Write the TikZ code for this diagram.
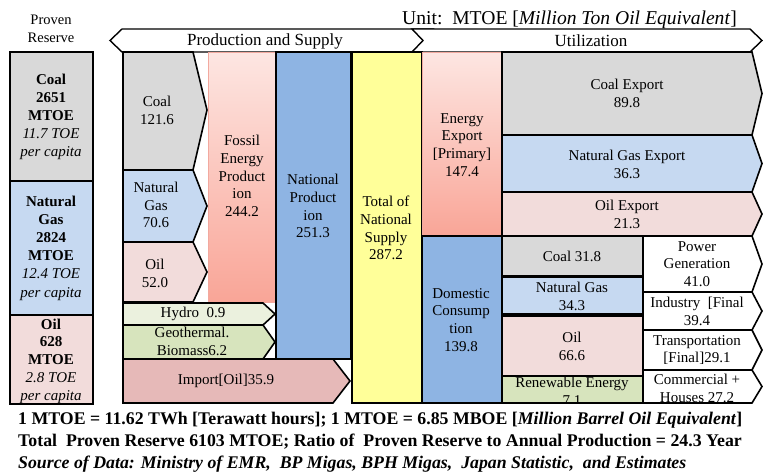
\documentclass[tikz,border=0pt]{standalone}
\usepackage{fontspec}
\setmainfont{Liberation Serif}
\begin{document}
\definecolor{coalc}{HTML}{D9D9D9}
\definecolor{gasc}{HTML}{C6D9F1}
\definecolor{oilc}{HTML}{F2DCDB}
\definecolor{hydroc}{HTML}{EBF1DE}
\definecolor{geoc}{HTML}{D7E4BD}
\definecolor{importc}{HTML}{E6B9B8}
\definecolor{natc}{HTML}{8EB4E3}
\definecolor{yelc}{HTML}{FFFF99}
\definecolor{pinktop}{HTML}{FDE6E2}
\definecolor{pinkbot}{HTML}{F9A597}
\definecolor{pinkedge}{HTML}{F2A99F}
\begin{tikzpicture}[x=1pt,y=-1pt,
  bx/.style={draw=black,line width=1.6pt,line join=miter},
  hdr/.style={draw=black,line width=1.4pt,fill=white},
  grad/.style={draw=pinkedge,line width=0.8pt,top color=pinktop,bottom color=pinkbot},
  lbl/.style={align=center,font=\fontsize{15}{17.8}\selectfont,inner sep=0pt},
  note/.style={anchor=base west,inner sep=0pt,font=\fontsize{17.8}{20}\selectfont\bfseries}]
\useasboundingbox (0,0) rectangle (763,472);
\fill[white] (0,0) rectangle (763,472);

% headers
\node[lbl,font=\fontsize{14.5}{17.5}\selectfont] (provhead) at (51,29) {Proven\\Reserve};
\node[anchor=base west,inner sep=0pt,font=\fontsize{19.6}{21}\selectfont] (unit) at (402,24) {Unit:\ \ MTOE [\textit{Million Ton Oil Equivalent}]};
\draw[hdr] (110,40.5) -- (122,29) -- (433,29) -- (423,40.5) -- (433,52) -- (122,52) -- cycle;
\draw[hdr] (412,29) -- (750,29) -- (762,40.5) -- (750,52) -- (412,52) -- (423,40.5) -- cycle;
\node[lbl,font=\fontsize{17}{18}\selectfont] (prodhead) at (265,41) {Production and Supply};
\node[lbl,font=\fontsize{17}{18}\selectfont] (utilhead) at (591,41) {Utilization};

% proven reserve column
\draw[bx,fill=coalc] (10,52) rectangle (93,181);
\draw[bx,fill=gasc] (10,181) rectangle (93,315);
\draw[bx,fill=oilc] (10,315) rectangle (93,404);
\node[lbl,font=\fontsize{15}{18}\selectfont] (rcoal) at (51,117) {\textbf{Coal}\\\textbf{2651}\\\textbf{MTOE}\\\textit{11.7 TOE}\\\textit{per capita}};
\node[lbl,font=\fontsize{15}{18.2}\selectfont] (rgas) at (51,248) {\textbf{Natural}\\\textbf{Gas}\\\textbf{2824}\\\textbf{MTOE}\\\textit{12.4 TOE}\\\textit{per capita}};
\node[lbl,font=\fontsize{15}{17.8}\selectfont] (roil) at (51,361) {\textbf{Oil}\\\textbf{628}\\\textbf{MTOE}\\\textit{2.8 TOE}\\\textit{per capita}};

% big columns
\draw[grad] (208,52) rectangle (275,302);
\draw[bx,fill=natc] (276,52) rectangle (351,359);
\draw[bx,fill=yelc] (352,52) rectangle (422,403);
\draw[grad] (422,52) rectangle (502,236);
\draw[bx,fill=natc] (422,236) rectangle (502,403);

% production shapes
\draw[bx,fill=coalc] (123,52) -- (193,52) -- (207,110) -- (193,170) -- (123,170) -- cycle;
\draw[bx,fill=gasc] (123,170) -- (193,170) -- (207,206) -- (193,242) -- (123,242) -- cycle;
\draw[bx,fill=oilc] (123,242) -- (193,242) -- (207,272) -- (193,302) -- (123,302) -- cycle;
\draw[bx,fill=hydroc] (123,303) -- (263,303) -- (275,314) -- (263,325) -- (123,325) -- cycle;
\draw[bx,fill=geoc] (123,325) -- (263,325) -- (275,342) -- (263,359) -- (123,359) -- cycle;
\draw[bx,fill=importc] (123,359) -- (333,359) -- (350,381) -- (333,403) -- (123,403) -- cycle;

\node[lbl] (pcoal) at (157,110) {Coal\\121.6};
\node[lbl] (pgas) at (156,205) {Natural\\Gas\\70.6};
\node[lbl] (poil) at (155,273) {Oil\\52.0};
\node[lbl] (fossil) at (242,176) {Fossil\\Energy\\Product\\ion\\244.2};
\node[lbl] (hydro) at (193,314) {Hydro\ \ 0.9};
\node[lbl] (geo) at (192,341.5) {Geothermal.\\Biomass6.2};
\node[lbl] (import) at (226,381) {Import[Oil]35.9};
\node[lbl] (natprod) at (313,206) {National\\Product\\ion\\251.3};
\node[lbl] (total) at (386,228) {Total of\\National\\Supply\\287.2};
\node[lbl] (eexport) at (462,145) {Energy\\Export\\{}[Primary]\\147.4};
\node[lbl] (domestic) at (461,320) {Domestic\\Consump\\tion\\139.8};

% exports
\draw[bx,fill=coalc] (502,52) -- (752,52) -- (762,93.5) -- (752,135) -- (502,135) -- cycle;
\draw[bx,fill=gasc] (502,135) -- (752,135) -- (762,163.5) -- (752,192) -- (502,192) -- cycle;
\draw[bx,fill=oilc] (502,192) -- (752,192) -- (762,214) -- (752,236) -- (502,236) -- cycle;
\node[lbl] (coalexp) at (627,93.5) {Coal Export\\89.8};
\node[lbl] (gasexp) at (627,164) {Natural Gas Export\\36.3};
\node[lbl] (oilexp) at (627,214) {Oil Export\\21.3};

% domestic split
\draw[bx,fill=coalc] (502,236) rectangle (643,276);
\draw[bx,fill=gasc] (502,277) rectangle (643,314);
\draw[bx,fill=oilc] (502,316) rectangle (643,376);
\draw[bx,fill=geoc] (502,376) rectangle (643,403);
\node[lbl] (dcoal) at (572,256) {Coal 31.8};
\node[lbl] (dgas) at (572,296) {Natural Gas\\34.3};
\node[lbl] (doil) at (572,346) {Oil\\66.6};
\begin{scope}
\clip (503,377) rectangle (642,402);
\node[lbl] (dren) at (572,391) {Renewable Energy\\7.1};
\end{scope}

% end use
\draw[bx,fill=white] (643,236) -- (752,236) -- (762,264) -- (752,292) -- (643,292) -- cycle;
\draw[bx,fill=white] (643,292) -- (752,292) -- (762,311) -- (752,330) -- (643,330) -- cycle;
\draw[bx,fill=white] (643,330) -- (752,330) -- (762,350) -- (752,370) -- (643,370) -- cycle;
\draw[bx,fill=white] (643,370) -- (752,370) -- (762,386.5) -- (752,403) -- (643,403) -- cycle;
\node[lbl] (power) at (697,264) {Power\\Generation\\41.0};
\node[lbl] (industry) at (697,311) {Industry\ \ [Final\\39.4};
\node[lbl] (transp) at (697,350) {Transportation\\{}[Final]29.1};
\node[lbl] (comm) at (697,388) {Commercial +\\Houses 27.2};

% footnotes
\node[note] (note1) at (18,424) {1 MTOE = 11.62 TWh [Terawatt hours]; 1 MTOE = 6.85 MBOE [\textit{Million Barrel Oil Equivalent}]};
\node[note] (note2) at (18,446) {Total\ \ Proven Reserve 6103 MTOE; Ratio of\ \ Proven Reserve to Annual Production = 24.3 Year};
\node[note,font=\fontsize{17.8}{20}\selectfont\bfseries\itshape] (note3) at (18,468) {Source of Data: Ministry of EMR,\ \ BP Migas, BPH Migas,\ \ Japan Statistic,\ \ and Estimates};
\end{tikzpicture}
\end{document}
